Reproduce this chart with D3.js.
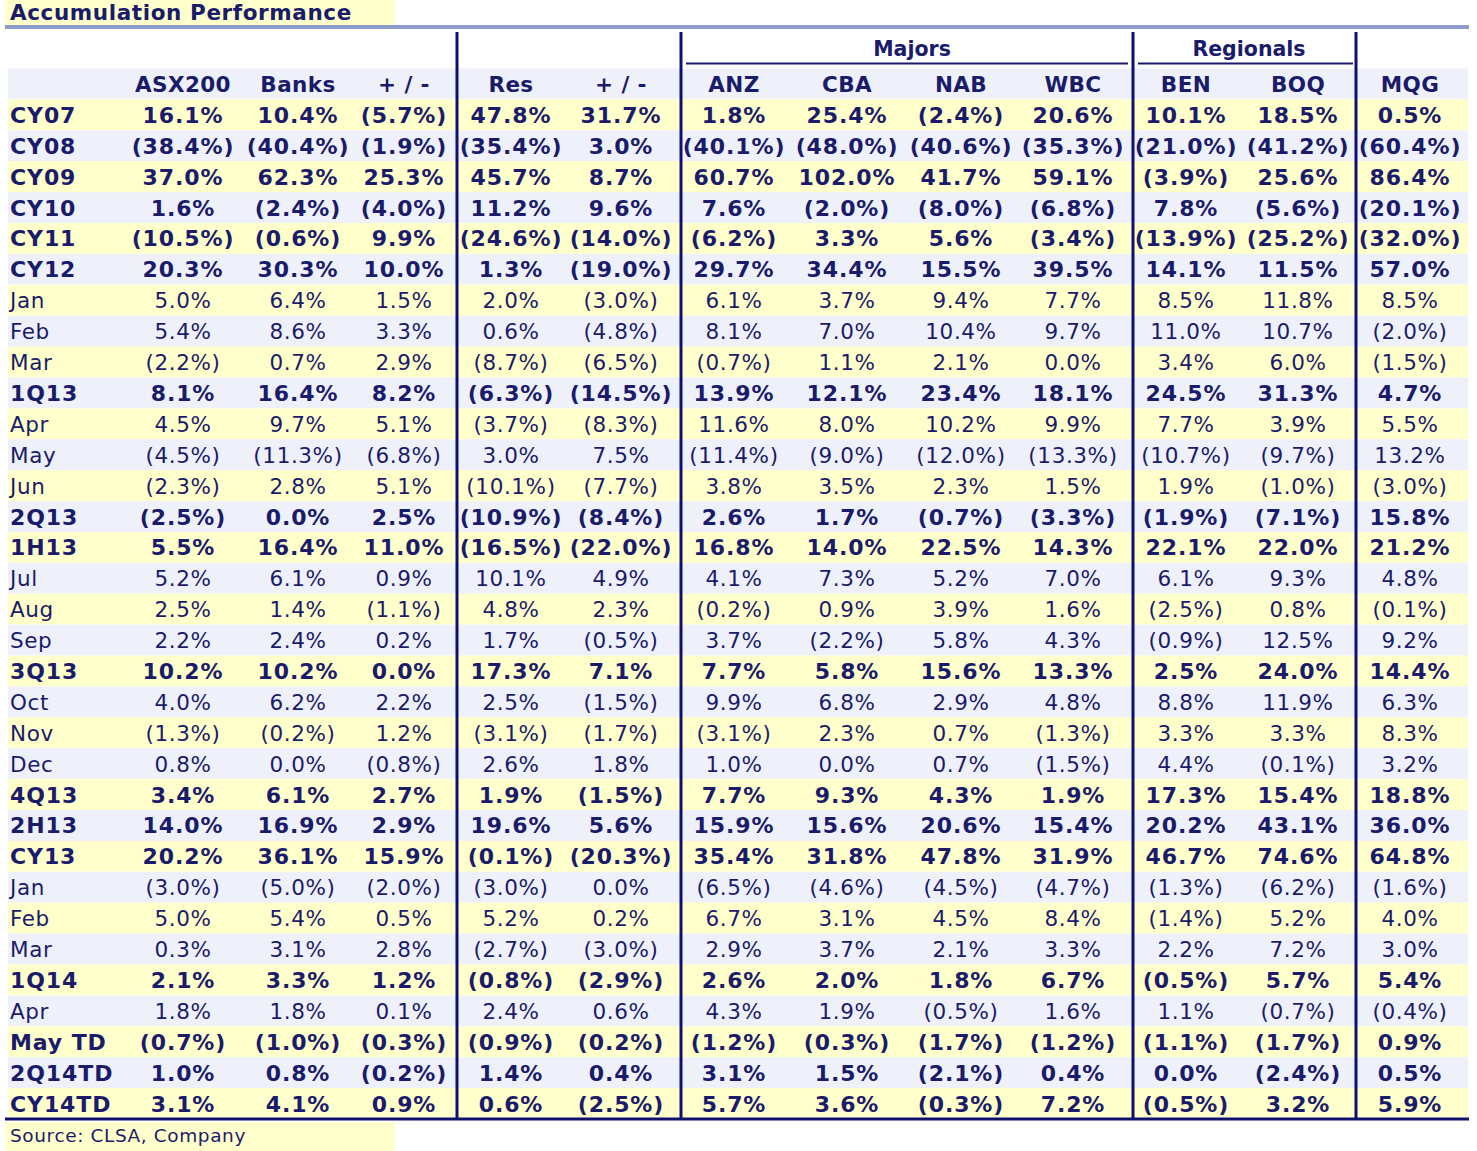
<!DOCTYPE html>
<html><head><meta charset="utf-8">
<script src="https://cdn.jsdelivr.net/npm/d3@7"></script>
<style>body{margin:0;background:#fff}</style>
</head><body><div id="viz"></div>
<script>
const columns = ["ASX200","Banks","+ / -","Res","+ / -","ANZ","CBA","NAB","WBC","BEN","BOQ","MQG"];
const groups = [{name:"Majors", from:5, to:8, cx:912},{name:"Regionals", from:9, to:10, cx:1249}];
const rowLabels = ["CY07","CY08","CY09","CY10","CY11","CY12","Jan","Feb","Mar","1Q13","Apr","May","Jun","2Q13","1H13","Jul","Aug","Sep","3Q13","Oct","Nov","Dec","4Q13","2H13","CY13","Jan","Feb","Mar","1Q14","Apr","May TD","2Q14TD","CY14TD"];
const boldRows = ["CY07","CY08","CY09","CY10","CY11","CY12","1Q13","2Q13","1H13","3Q13","4Q13","2H13","CY13","1Q14","May TD","2Q14TD","CY14TD"];
const values = [
 [16.1,10.4,-5.7,47.8,31.7,1.8,25.4,-2.4,20.6,10.1,18.5,0.5],
 [-38.4,-40.4,-1.9,-35.4,3.0,-40.1,-48.0,-40.6,-35.3,-21.0,-41.2,-60.4],
 [37.0,62.3,25.3,45.7,8.7,60.7,102.0,41.7,59.1,-3.9,25.6,86.4],
 [1.6,-2.4,-4.0,11.2,9.6,7.6,-2.0,-8.0,-6.8,7.8,-5.6,-20.1],
 [-10.5,-0.6,9.9,-24.6,-14.0,-6.2,3.3,5.6,-3.4,-13.9,-25.2,-32.0],
 [20.3,30.3,10.0,1.3,-19.0,29.7,34.4,15.5,39.5,14.1,11.5,57.0],
 [5.0,6.4,1.5,2.0,-3.0,6.1,3.7,9.4,7.7,8.5,11.8,8.5],
 [5.4,8.6,3.3,0.6,-4.8,8.1,7.0,10.4,9.7,11.0,10.7,-2.0],
 [-2.2,0.7,2.9,-8.7,-6.5,-0.7,1.1,2.1,0.0,3.4,6.0,-1.5],
 [8.1,16.4,8.2,-6.3,-14.5,13.9,12.1,23.4,18.1,24.5,31.3,4.7],
 [4.5,9.7,5.1,-3.7,-8.3,11.6,8.0,10.2,9.9,7.7,3.9,5.5],
 [-4.5,-11.3,-6.8,3.0,7.5,-11.4,-9.0,-12.0,-13.3,-10.7,-9.7,13.2],
 [-2.3,2.8,5.1,-10.1,-7.7,3.8,3.5,2.3,1.5,1.9,-1.0,-3.0],
 [-2.5,0.0,2.5,-10.9,-8.4,2.6,1.7,-0.7,-3.3,-1.9,-7.1,15.8],
 [5.5,16.4,11.0,-16.5,-22.0,16.8,14.0,22.5,14.3,22.1,22.0,21.2],
 [5.2,6.1,0.9,10.1,4.9,4.1,7.3,5.2,7.0,6.1,9.3,4.8],
 [2.5,1.4,-1.1,4.8,2.3,-0.2,0.9,3.9,1.6,-2.5,0.8,-0.1],
 [2.2,2.4,0.2,1.7,-0.5,3.7,-2.2,5.8,4.3,-0.9,12.5,9.2],
 [10.2,10.2,0.0,17.3,7.1,7.7,5.8,15.6,13.3,2.5,24.0,14.4],
 [4.0,6.2,2.2,2.5,-1.5,9.9,6.8,2.9,4.8,8.8,11.9,6.3],
 [-1.3,-0.2,1.2,-3.1,-1.7,-3.1,2.3,0.7,-1.3,3.3,3.3,8.3],
 [0.8,0.0,-0.8,2.6,1.8,1.0,0.0,0.7,-1.5,4.4,-0.1,3.2],
 [3.4,6.1,2.7,1.9,-1.5,7.7,9.3,4.3,1.9,17.3,15.4,18.8],
 [14.0,16.9,2.9,19.6,5.6,15.9,15.6,20.6,15.4,20.2,43.1,36.0],
 [20.2,36.1,15.9,-0.1,-20.3,35.4,31.8,47.8,31.9,46.7,74.6,64.8],
 [-3.0,-5.0,-2.0,-3.0,0.0,-6.5,-4.6,-4.5,-4.7,-1.3,-6.2,-1.6],
 [5.0,5.4,0.5,5.2,0.2,6.7,3.1,4.5,8.4,-1.4,5.2,4.0],
 [0.3,3.1,2.8,-2.7,-3.0,2.9,3.7,2.1,3.3,2.2,7.2,3.0],
 [2.1,3.3,1.2,-0.8,-2.9,2.6,2.0,1.8,6.7,-0.5,5.7,5.4],
 [1.8,1.8,0.1,2.4,0.6,4.3,1.9,-0.5,1.6,1.1,-0.7,-0.4],
 [-0.7,-1.0,-0.3,-0.9,-0.2,-1.2,-0.3,-1.7,-1.2,-1.1,-1.7,0.9],
 [1.0,0.8,-0.2,1.4,0.4,3.1,1.5,-2.1,0.4,0.0,-2.4,0.5],
 [3.1,4.1,0.9,0.6,-2.5,5.7,3.6,-0.3,7.2,-0.5,3.2,5.9]
];
const colCenters = [183,298,404,511,621,734,847,961,1073,1186,1298,1410];
const dividers = [457,681,1133,1356];

const W = 1477, H = 1151, navy = "#1b1b6b", font = "Verdana, 'DejaVu Sans', sans-serif";
const svg = d3.select("#viz").append("svg").attr("width", W).attr("height", H)
  .style("font-family", font);

const fmt = v => { const s = Math.abs(v).toFixed(1) + "%"; return v < 0 ? "(" + s + ")" : s; };

// row scale: header at index 0, data rows after
const y = d3.scaleBand().domain(d3.range(rowLabels.length + 1)).range([68.5, 1119]).padding(0);
const x = d3.scaleOrdinal().domain(d3.range(columns.length)).range(colCenters);

// title
svg.append("rect").attr("x", 5).attr("y", 0).attr("width", 390).attr("height", 25).attr("fill", "#ffffcc");
svg.append("text").attr("x", 10).attr("y", 20).attr("fill", navy).attr("font-weight", "bold")
  .attr("font-size", 21.5).attr("letter-spacing", 0.6).text("Accumulation Performance");
svg.append("rect").attr("x", 5).attr("y", 25).attr("width", 1464).attr("height", 4).attr("fill", "#8e9ccc");

// row backgrounds
svg.append("g").selectAll("rect").data(d3.range(rowLabels.length + 1)).join("rect")
  .attr("x", 8).attr("width", 1460).attr("y", i => y(i)).attr("height", y.bandwidth())
  .attr("fill", i => i % 2 === 0 ? "#eef1f9" : "#ffffcc");

// header
svg.append("g").selectAll("text").data(columns).join("text")
  .attr("x", (d, i) => x(i)).attr("y", y(0) + y.bandwidth() / 2 + 8)
  .attr("text-anchor", "middle").attr("font-weight", "bold").attr("font-size", 21.5)
  .attr("letter-spacing", 0.4).attr("fill", navy).text(d => d);

groups.forEach(g => {
  const x0 = x(g.from) - 48, x1 = x(g.to) + 55;
  svg.append("text").attr("x", g.cx).attr("y", 56).attr("text-anchor", "middle")
    .attr("font-weight", "bold").attr("font-size", 20.5).attr("fill", navy).text(g.name);
  svg.append("line").attr("x1", x0).attr("x2", x1).attr("y1", 63.5).attr("y2", 63.5)
    .attr("stroke", navy).attr("stroke-width", 2);
});

// body
const rows = svg.append("g").selectAll("g").data(rowLabels).join("g")
  .attr("transform", (d, i) => `translate(0,${y(i + 1) + y.bandwidth() / 2 + 8})`)
  .attr("font-weight", d => boldRows.includes(d) ? "bold" : "normal")
  .attr("font-size", d => boldRows.includes(d) ? 22 : 21.5)
  .attr("letter-spacing", d => boldRows.includes(d) ? 0.9 : 0.6)
  .attr("fill", navy);
rows.append("text").attr("x", 10).text(d => d);
rows.selectAll("text.v").data((d, i) => values[i]).join("text").attr("class", "v")
  .attr("x", (d, j) => x(j)).attr("text-anchor", "middle").text(fmt);

// dividers
svg.append("g").selectAll("line").data(dividers).join("line")
  .attr("x1", d => d).attr("x2", d => d).attr("y1", 32).attr("y2", 1119)
  .attr("stroke", "#101070").attr("stroke-width", 3);
svg.append("line").attr("x1", 5).attr("x2", 1469).attr("y1", 1119).attr("y2", 1119)
  .attr("stroke", "#101070").attr("stroke-width", 3);

// source
svg.append("rect").attr("x", 5).attr("y", 1122).attr("width", 390).attr("height", 29).attr("fill", "#ffffcc");
svg.append("text").attr("x", 10).attr("y", 1142).attr("font-size", 18.5).attr("letter-spacing", 0.6)
  .attr("fill", navy).text("Source: CLSA, Company");
</script></body></html>
